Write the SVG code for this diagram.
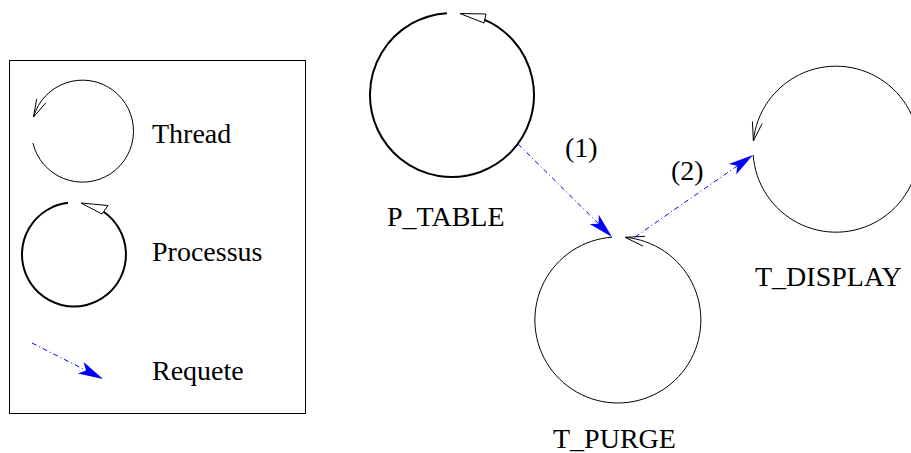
<svg xmlns="http://www.w3.org/2000/svg" width="911" height="453" viewBox="0 0 911 453">
<style>
text { font-family: "Liberation Serif", "Times New Roman", serif; font-size: 28px; fill: #000; }
.thread { fill: none; stroke: #000; stroke-width: 1; }
.proc { fill: none; stroke: #000; stroke-width: 2; }
.phead { fill: #fff; stroke: #000; stroke-width: 1; stroke-linejoin: miter; }
.req { fill: none; stroke: #0000ff; stroke-width: 1; stroke-dasharray: 5 3 1 3; marker-end: url(#blueArrow); }
</style>
<defs>
<marker id="blueArrow" markerUnits="userSpaceOnUse" viewBox="-26 -7 27 14" refX="0" refY="0" markerWidth="27" markerHeight="14" orient="auto" overflow="visible">
<path d="M0,0 L-25,-6.5 L-19,0 L-25,6.5 Z" fill="#0000ff"/>
</marker>
</defs>

<g id="legend">
<rect x="9.5" y="60.5" width="296" height="353" fill="none" stroke="#000" stroke-width="1"/>
<g id="legend-thread">
<path class="thread" d="M32.9,143 A51,51 0 1 0 33.5,117"/>
<path class="thread" d="M45.7,103 L33.5,117 L36.7,98.9"/>
<text x="152" y="143">Thread</text>
</g>
<g id="legend-processus">
<path class="proc" d="M68,202.85 A52,52 0 1 0 103.5,211.7"/>
<path class="phead" d="M81,203 L108,205.5 L102,214 Z"/>
<text x="152" y="261">Processus</text>
</g>
<g id="legend-requete">
<line class="req" x1="32" y1="343" x2="103" y2="379"/>
<text x="152" y="380">Requete</text>
</g>
</g>

<g id="P_TABLE">
<path class="proc" d="M447,13.15 A82,82 0 1 0 483,19.1"/>
<path class="phead" d="M460,13.5 L486,14 L484,23 Z"/>
<text x="387" y="226">P_TABLE</text>
</g>

<g id="T_PURGE">
<path class="thread" d="M612,237.2 A83,83 0 1 0 625,237.3"/>
<path class="thread" d="M645.1,236.3 L625,237.3 L643.1,246.1"/>
<text x="553" y="448">T_PURGE</text>
</g>

<g id="T_DISPLAY">
<path class="thread" d="M753.2,155 A83,83 0 1 0 753.4,141"/>
<path class="thread" d="M762.2,123.5 L753.4,141 L752.4,121.5"/>
<text x="755" y="286">T_DISPLAY</text>
</g>

<g id="connectors">
<line class="req" x1="518" y1="144" x2="612" y2="237"/>
<text x="565" y="157">(1)</text>
<line class="req" x1="635" y1="237" x2="753" y2="155"/>
<text x="671" y="180">(2)</text>
</g>
</svg>
